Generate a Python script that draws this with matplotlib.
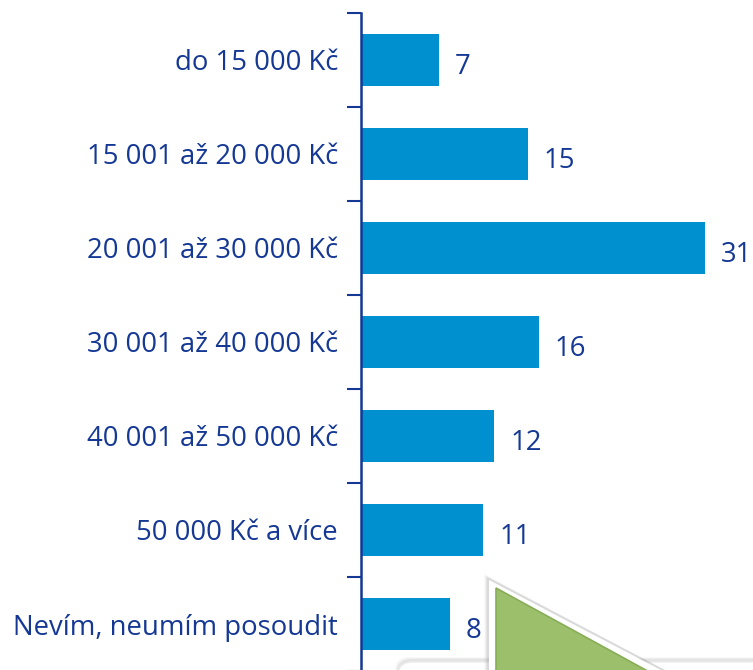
import matplotlib
matplotlib.use("Agg")
import matplotlib.pyplot as plt
from matplotlib.patches import Polygon, FancyBboxPatch
from matplotlib.transforms import ScaledTranslation

categories = ["do 15 000 Kč", "15 001 až 20 000 Kč", "20 001 až 30 000 Kč",
              "30 001 až 40 000 Kč", "40 001 až 50 000 Kč", "50 000 Kč a více",
              "Nevím, neumím posoudit"]
values = [7, 15, 31, 16, 12, 11, 8]

W, H = 753, 670
fig = plt.figure(figsize=(W / 100, H / 100), dpi=100)
plt.rcParams['font.family'] = ['Open Sans', 'DejaVu Sans']

text_color = "#143894"
bar_color = "#0090D0"

# axes in pixel geometry
left_px, right_px = 361, 753
top_px, bottom_px = 13, 671
ax = fig.add_axes([left_px / W, (H - bottom_px) / H,
                   (right_px - left_px) / W, (bottom_px - top_px) / H])

n = len(categories)
ypos = list(range(n))
ax.barh(ypos, values, height=0.55, color=bar_color, zorder=2)
ax.set_ylim(n - 0.5, -0.5)
ax.set_xlim(0, (right_px - left_px) / 11.1)

ax.set_yticks([i - 0.5 for i in range(n + 1)], minor=False)
ax.set_yticklabels([])
ax.set_yticks(ypos, minor=True)
ax.set_yticklabels(categories, minor=True, fontsize=19.8, color=text_color,
                   va="center_baseline")
shift = ScaledTranslation(0, -2.5 / 72, fig.dpi_scale_trans)
for lbl in ax.get_yticklabels(minor=True):
    lbl.set_transform(lbl.get_transform() + shift)
ax.tick_params(axis='y', which='minor', length=0, pad=16.5)
ax.tick_params(axis='y', which='major', length=10, width=1.5, color=text_color)
ax.set_xticks([])
for s in ["top", "right", "bottom"]:
    ax.spines[s].set_visible(False)
ax.spines["left"].set_color(text_color)
ax.spines["left"].set_linewidth(1.8)

for y, v in zip(ypos, values):
    ax.annotate(str(v), xy=(v, y), xytext=(11.5, -2.5), textcoords="offset points",
                fontsize=19.8, color=text_color, va="center_baseline", ha="left")

# decorative shapes (bottom right)
def px(x, y):
    return (x / W, (H - y) / H)

for i, a in enumerate([0.05, 0.07, 0.1]):
    sh = FancyBboxPatch(px(398 - (3 - i), 700), (W - 398 + 30) / W, (40 + (3 - i)) / H,
                        boxstyle="round,pad=0.0,rounding_size=0.02",
                        transform=fig.transFigure, facecolor="#808080",
                        edgecolor="none", alpha=a, zorder=4)
    fig.add_artist(sh)
box = FancyBboxPatch(px(398, 700), (W - 398 + 20) / W, 38 / H,
                     boxstyle="round,pad=0.0,rounding_size=0.02",
                     transform=fig.transFigure, facecolor="white",
                     edgecolor="#EDEDED", linewidth=1.0, zorder=5)
fig.add_artist(box)

for i, a in enumerate([0.04, 0.06, 0.08, 0.1]):
    d = 4 - i
    shadow = Polygon([px(488 - d, 578 - d), px(488 - d, 680), px(684, 680)], closed=True,
                     transform=fig.transFigure, facecolor="#707070", edgecolor="none",
                     alpha=a, zorder=6)
    fig.add_artist(shadow)
tri_outer = Polygon([px(489, 580), px(489, 680), px(680, 680)], closed=True,
                    transform=fig.transFigure, facecolor="white", edgecolor="none",
                    zorder=6.5)
fig.add_artist(tri_outer)
tri = Polygon([px(496, 588), px(496, 680), px(664, 680)], closed=True,
              transform=fig.transFigure, facecolor="#9BBF6A", edgecolor="#88AD57",
              linewidth=1.2, zorder=7)
fig.add_artist(tri)

fig.savefig("out.png", dpi=100)
